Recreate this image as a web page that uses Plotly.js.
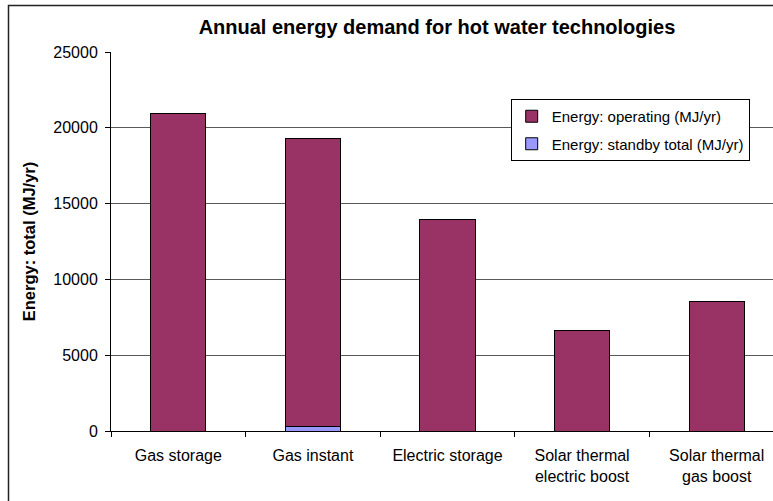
<!DOCTYPE html>
<html>
<head>
<meta charset="utf-8">
<script src="https://cdn.plot.ly/plotly-3.0.1.min.js"></script>
<style>
  html, body { margin: 0; padding: 0; background: #fff; overflow: hidden; }
  #chart { width: 800px; height: 520px; }
</style>
</head>
<body>
<div id="chart"></div>
<script>
// Hot water technologies and their annual energy use (MJ/yr)
const categories = [
  'Gas storage',
  'Gas instant',
  'Electric storage',
  'Solar thermal<br>electric boost',
  'Solar thermal<br>gas boost'
];
const standbyEnergy = [0, 300, 0, 0, 0];
const operatingEnergy = [20950, 19000, 13950, 6600, 8550];
const yTickValues = [0, 5000, 10000, 15000, 20000, 25000];

const W = 800, H = 520;
const M = { l: 111, r: 16, t: 52, b: 89 };
const plotW = W - M.l - M.r;
const plotH = H - M.t - M.b;
// pixel -> paper helpers for the outer chart frame and legend
const px = x => (x - M.l) / plotW;
const py = y => (H - M.b - y) / plotH;

const font = 'Liberation Sans, Arial, sans-serif';

const traces = [
  {
    type: 'bar',
    name: 'Energy: standby total (MJ/yr)',
    x: categories,
    y: standbyEnergy,
    legendgroup: 'standby',
    legendrank: 2,
    marker: { color: '#9999FF', line: { color: '#000', width: 1 } },
    hoverinfo: 'y'
  },
  {
    type: 'bar',
    name: 'Energy: operating (MJ/yr)',
    x: categories,
    y: operatingEnergy,
    legendgroup: 'operating',
    legendrank: 1,
    marker: { color: '#993366', line: { color: '#000', width: 1 } },
    hoverinfo: 'y'
  }
];

const layout = {
  width: W,
  height: H,
  margin: M,
  barmode: 'stack',
  bargap: 0.59,
  paper_bgcolor: '#fff',
  plot_bgcolor: '#fff',
  font: { family: font, color: '#000', size: 16 },
  title: {
    text: '<b>Annual energy demand for hot water technologies</b>',
    font: { family: font, size: 20, color: '#000' },
    x: 437 / W,
    xanchor: 'center',
    y: 1 - 27 / H,
    yanchor: 'middle'
  },
  xaxis: {
    type: 'category',
    tickson: 'boundaries',
    ticks: 'outside',
    ticklen: 5,
    tickcolor: '#000',
    showline: true,
    linecolor: '#000',
    linewidth: 1,
    showgrid: false,
    ticklabelstandoff: 10,
    tickfont: { family: font, size: 16, color: '#000' },
    fixedrange: true
  },
  yaxis: {
    range: [0, 25000],
    tickvals: yTickValues,
    ticktext: yTickValues.map(String),
    ticks: 'outside',
    ticklen: 5,
    tickcolor: '#000',
    showline: true,
    linecolor: '#000',
    linewidth: 1,
    showgrid: true,
    gridcolor: '#5a5a5a',
    gridwidth: 1,
    zeroline: false,
    ticklabelstandoff: 4,
    tickfont: { family: font, size: 16, color: '#000' },
    title: {
      text: '<b>Energy: total (MJ/yr)</b>',
      font: { family: font, size: 16.5, color: '#000' },
      standoff: 13
    },
    fixedrange: true
  },
  showlegend: true,
  legend: {
    x: px(510.7),
    y: py(99),
    xanchor: 'left',
    yanchor: 'top',
    bgcolor: '#fff',
    bordercolor: '#000',
    borderwidth: 1,
    traceorder: 'grouped',
    tracegroupgap: 5,
    itemwidth: 30,
    font: { family: font, size: 15, color: '#000' }
  },
  shapes: [
    {
      // outer chart frame
      type: 'rect',
      xref: 'paper', yref: 'paper',
      x0: px(8.5), x1: px(W + 20),
      y0: py(H + 20), y1: py(5.5),
      line: { color: '#222', width: 1.5 },
      fillcolor: 'rgba(0,0,0,0)',
      layer: 'below'
    }
  ]
};

Plotly.newPlot('chart', traces, layout, { displayModeBar: false, staticPlot: true });
</script>
</body>
</html>
